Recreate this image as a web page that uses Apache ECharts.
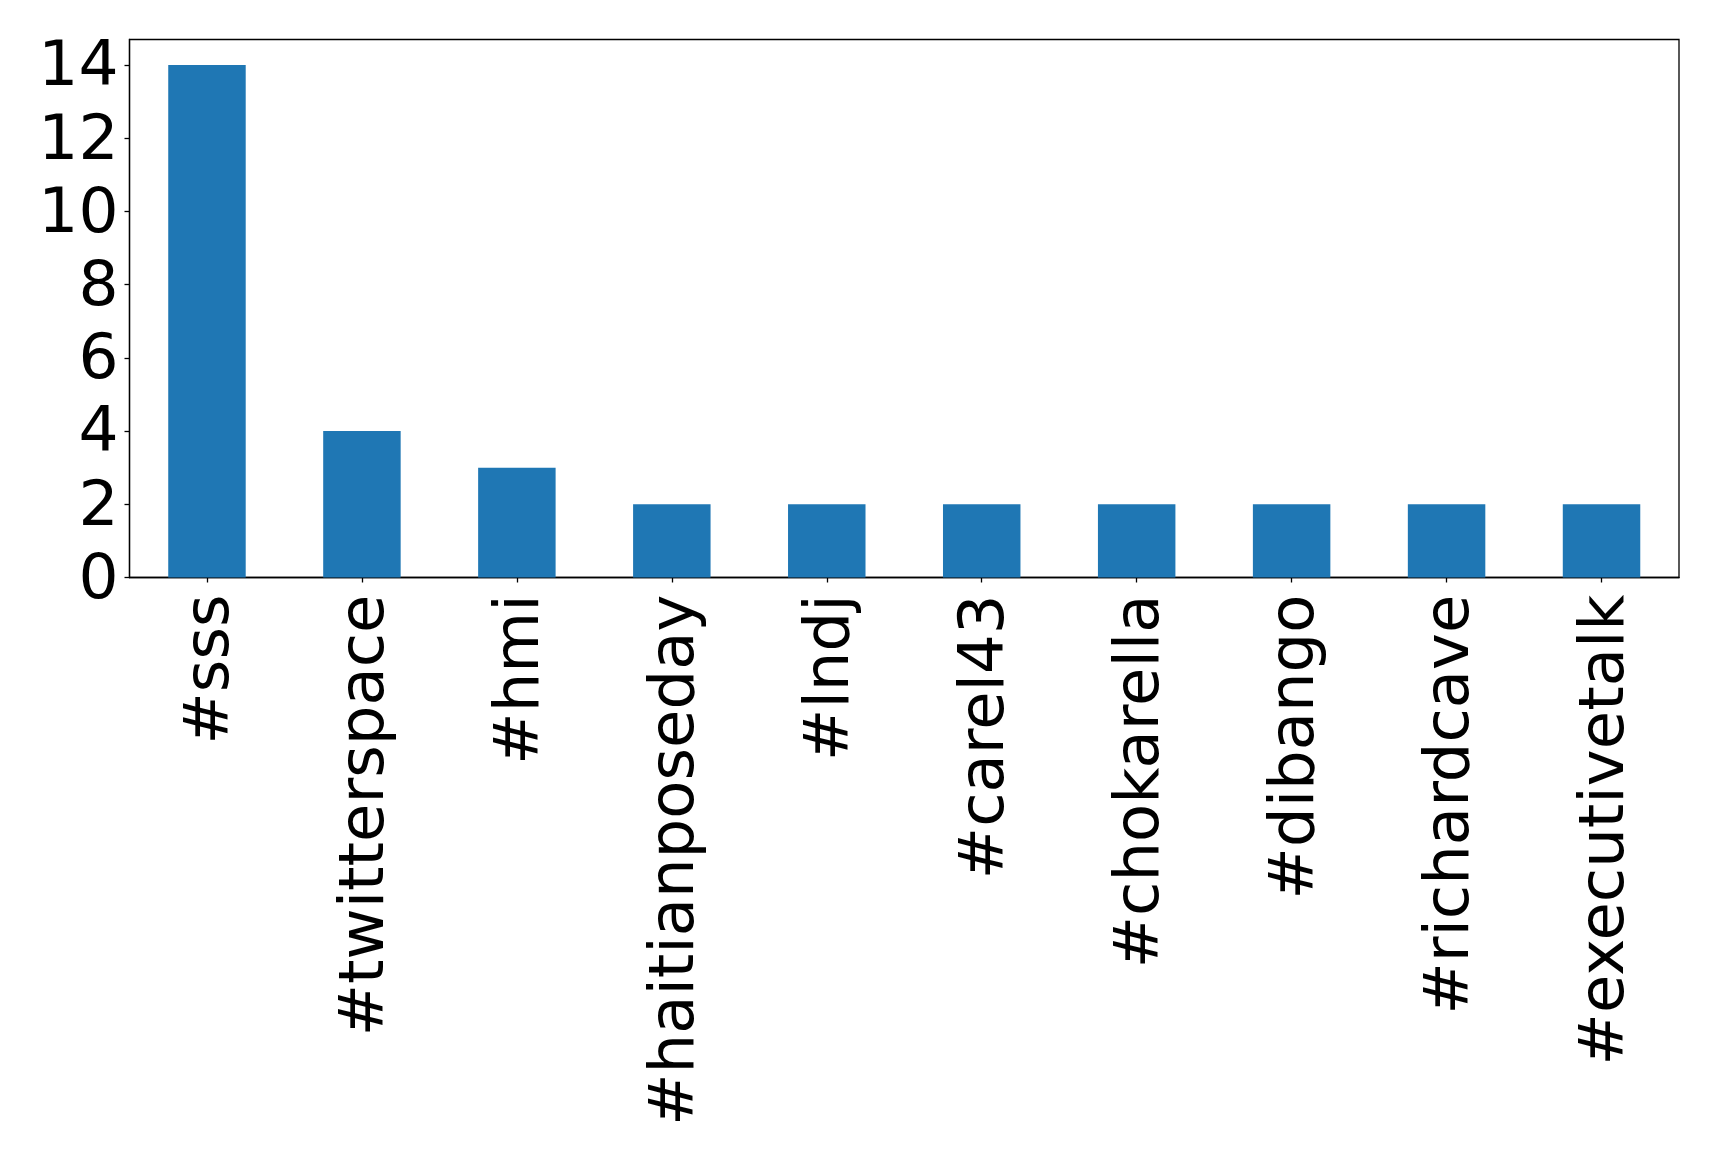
<!DOCTYPE html>
<html>
<head>
<meta charset="utf-8">
<script src="https://cdn.jsdelivr.net/npm/echarts@6/dist/echarts.min.js"></script>
<style>
html,body{margin:0;padding:0;background:#fff;}
#chart{width:1719px;height:1159px;}
</style>
</head>
<body>
<div id="chart"></div>
<script>
const categories = ['#sss', '#twitterspace', '#hmi', '#haitianposeday', '#lndj', '#carel43', '#chokarella', '#dibango', '#richardcave', '#executivetalk'];
const counts = [14, 4, 3, 2, 2, 2, 2, 2, 2, 2];
const yTicks = [0, 2, 4, 6, 8, 10, 12, 14];
const yMax = 14.7;

const chart = echarts.init(document.getElementById('chart'), null, {renderer: 'canvas'});
const font = 'DejaVu Sans';
chart.setOption({
  animation: false,
  backgroundColor: '#ffffff',
  grid: {
    left: 129.5, right: 40, top: 39.5, bottom: 581.5,
    show: true, borderColor: '#000', borderWidth: 1.3, backgroundColor: 'transparent',
    containLabel: false
  },
  xAxis: {
    type: 'category',
    data: categories,
    axisLine: {show: true, lineStyle: {color: '#000', width: 1.3}},
    axisTick: {show: true, alignWithLabel: true, length: 5, lineStyle: {color: '#000', width: 1.3}},
    axisLabel: {
      rotate: 90, interval: 0, margin: 17,
      formatter: v => '{a|' + v + '}',
      rich: {a: {fontFamily: font, fontSize: 62.5, color: '#000', padding: [10, 0, 0, 0]}}
    },
    splitLine: {show: false}
  },
  yAxis: {
    type: 'value',
    min: 0, max: yMax, interval: 2,
    axisLine: {show: true, lineStyle: {color: '#000', width: 1.3}},
    axisTick: {show: true, length: 5, customValues: yTicks, lineStyle: {color: '#000', width: 1.3}},
    axisLabel: {
      margin: 11, customValues: yTicks,
      formatter: v => '{a|' + v + '}',
      rich: {a: {fontFamily: font, fontSize: 63, color: '#000', padding: [8, 0, 0, 0]}}
    },
    splitLine: {show: false}
  },
  series: [{
    type: 'bar',
    data: counts,
    barWidth: '50%',
    itemStyle: {color: '#1f77b4'}
  }]
});
</script>
</body>
</html>
